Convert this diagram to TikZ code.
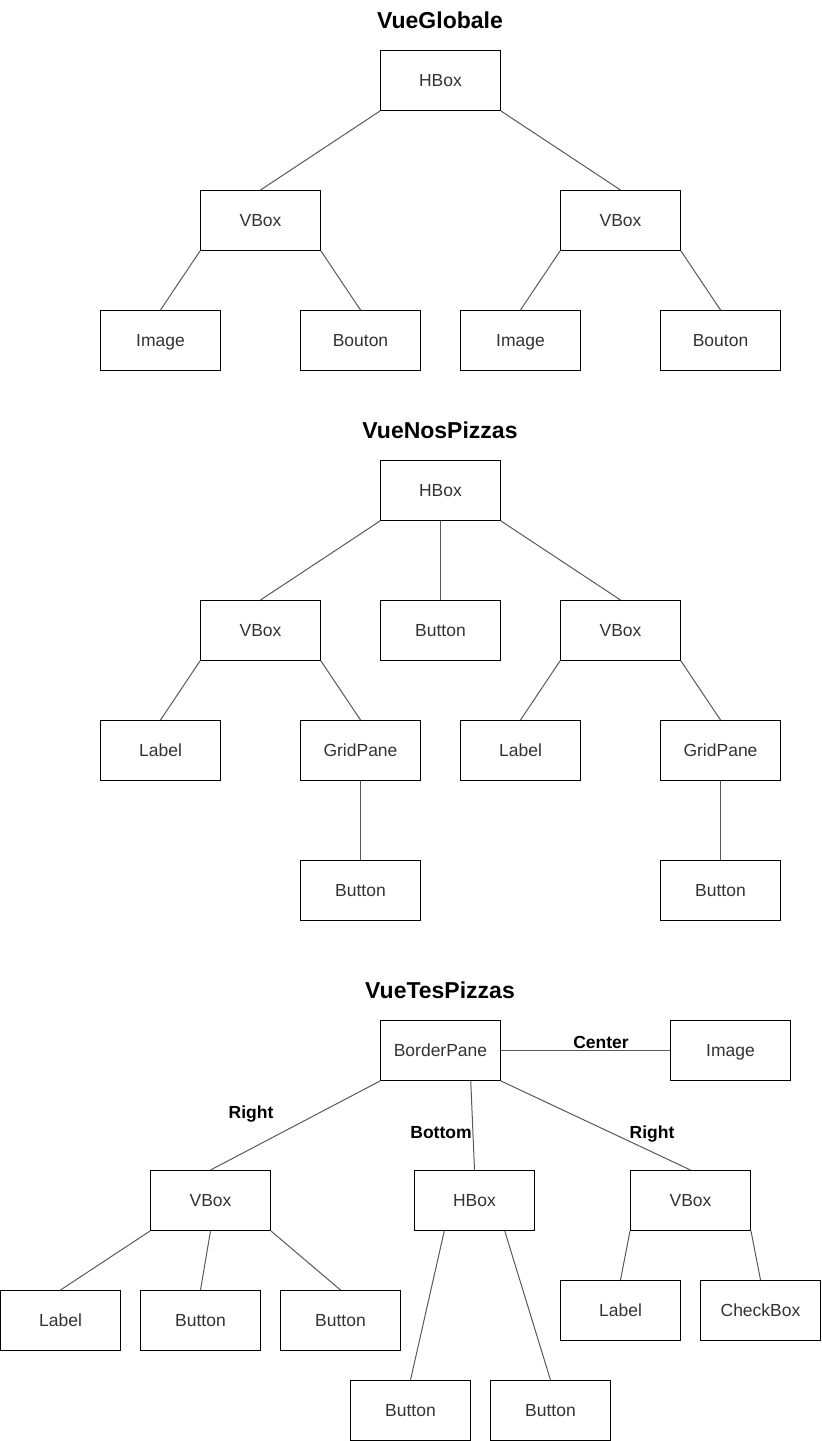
\documentclass[tikz,border=0pt]{standalone}
\usepackage{fontspec}
\setmainfont{Liberation Sans}
\usetikzlibrary{calc}
\definecolor{conn}{HTML}{595959}
\definecolor{txt}{HTML}{333333}
\tikzset{
  box/.style={draw=black, line width=1pt, minimum width=120pt, minimum height=60pt,
    inner sep=0pt, anchor=north west, text=txt, font=\fontsize{17.5}{20}\selectfont,
    text height=14pt, text depth=1.5pt},
  ttl/.style={font=\fontsize{23}{27}\selectfont\bfseries, text=black, inner sep=0pt},
  lbl/.style={font=\fontsize{17.5}{20}\selectfont\bfseries, text=black, inner sep=0pt, anchor=base},
  link/.style={draw=conn, line width=1pt}
}
\begin{document}
\begin{tikzpicture}[x=1pt,y=-1pt]
\useasboundingbox (0,0) rectangle (822,1441);
% ---------- VueGlobale ----------
\node[ttl] (t1) at (440,20) {VueGlobale};
\node[box] (g0) at (380,50) {HBox};
\node[box] (g1) at (200,190) {VBox};
\node[box] (g2) at (560,190) {VBox};
\node[box] (g11) at (100,310) {Image};
\node[box] (g12) at (300,310) {Bouton};
\node[box] (g21) at (460,310) {Image};
\node[box] (g22) at (660,310) {Bouton};
\draw[link] (g0.south west) -- (g1.north);
\draw[link] (g0.south east) -- (g2.north);
\draw[link] (g1.south west) -- (g11.north);
\draw[link] (g1.south east) -- (g12.north);
\draw[link] (g2.south west) -- (g21.north);
\draw[link] (g2.south east) -- (g22.north);
% ---------- VueNosPizzas ----------
\node[ttl] (t2) at (440,430) {VueNosPizzas};
\node[box] (n0) at (380,460) {HBox};
\node[box] (n1) at (200,600) {VBox};
\node[box] (nb) at (380,600) {Button};
\node[box] (n2) at (560,600) {VBox};
\node[box] (n11) at (100,720) {Label};
\node[box] (n12) at (300,720) {GridPane};
\node[box] (n21) at (460,720) {Label};
\node[box] (n22) at (660,720) {GridPane};
\node[box] (n121) at (300,860) {Button};
\node[box] (n221) at (660,860) {Button};
\draw[link] (n0.south west) -- (n1.north);
\draw[link] (n0.south) -- (nb.north);
\draw[link] (n0.south east) -- (n2.north);
\draw[link] (n1.south west) -- (n11.north);
\draw[link] (n1.south east) -- (n12.north);
\draw[link] (n2.south west) -- (n21.north);
\draw[link] (n2.south east) -- (n22.north);
\draw[link] (n12.south) -- (n121.north);
\draw[link] (n22.south) -- (n221.north);
% ---------- VueTesPizzas ----------
\node[ttl] (t3) at (440,990) {VueTesPizzas};
\node[box] (bp) at (380,1020) {BorderPane};
\node[box] (img) at (670,1020) {Image};
\node[box] (v1) at (150,1170) {VBox};
\node[box] (h1) at (414,1170) {HBox};
\node[box] (v2) at (630,1170) {VBox};
\node[box] (v11) at (0,1290) {Label};
\node[box] (v12) at (140,1290) {Button};
\node[box] (v13) at (280,1290) {Button};
\node[box] (h11) at (350,1380) {Button};
\node[box] (h12) at (490,1380) {Button};
\node[box] (v21) at (560,1280) {Label};
\node[box] (v22) at (700,1280) {CheckBox};
\draw[link] (bp.east) -- (img.west);
\draw[link] (bp.south west) -- (v1.north);
\draw[link] ($(bp.south west)!0.75!(bp.south east)$) -- (h1.north);
\draw[link] (bp.south east) -- (v2.north);
\draw[link] (v1.south west) -- (v11.north);
\draw[link] (v1.south) -- (v12.north);
\draw[link] (v1.south east) -- (v13.north);
\draw[link] ($(h1.south west)!0.25!(h1.south east)$) -- (h11.north);
\draw[link] ($(h1.south west)!0.75!(h1.south east)$) -- (h12.north);
\draw[link] (v2.south west) -- (v21.north);
\draw[link] (v2.south east) -- (v22.north);
\node[lbl] (lc) at (601,1048) {Center};
\node[lbl] (lr1) at (251,1118) {Right};
\node[lbl] (lb) at (441,1138) {Bottom};
\node[lbl] (lr2) at (652,1138) {Right};
\end{tikzpicture}
\end{document}
